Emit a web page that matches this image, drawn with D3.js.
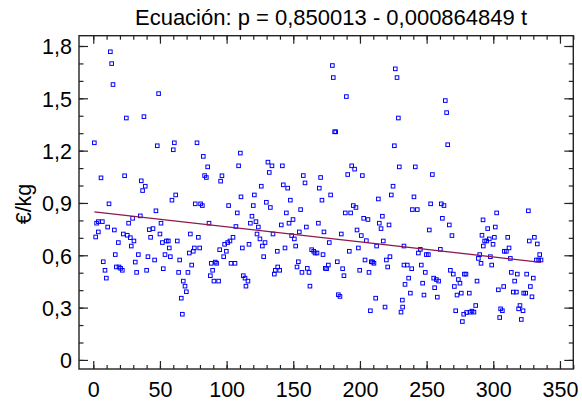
<!DOCTYPE html>
<html><head><meta charset="utf-8">
<script src="https://cdn.jsdelivr.net/npm/d3@7"></script>
<style>body{margin:0;background:#fff}svg{display:block}text{font-family:"Liberation Sans",Arial,sans-serif}</style>
</head><body>
<svg id="c" width="582" height="405"></svg>
<script>
const times = [0.8,1.8,2.5,3.8,3.8,5.8,6.8,7.5,8.8,9.8,10.8,11.8,12.8,13.8,14.8,15.8,16.5,17.3,18.8,19.3,20.5,21.8,22.5,23.5,24.8,25.5,26.5,27.8,28.5,29.5,30.5,31.5,32.5,33.8,35.3,36,37,38,39,40,41,42,43,44.8,46,47,48,49,50,50.8,51.8,52.5,53.8,
54.8,56.3,57,57.8,59,60,60.8,61.8,63,64,64.8,66,66.8,67.5,68.8,69.8,71,72,72.8,73.8,75,75.8,76.5,77.8,78.8,79.8,80.5,81.8,82.5,83.5,84.8,85.8,86.8,87.8,88.5,89.5,90.5,91.5,92.5,94,94.8,95.5,96.5,97.8,98.5,99.8,100.8,101.5,102.5,103.3,104.8,106.3,107,108,109,110.3,110.8,111.8,112.5,113.8,114.5,
116,116.8,117.8,119,120,120.8,122,122.8,123.8,125,126,126.8,127.8,128.8,129.8,131,132,132.8,134,134.8,135.8,136.5,138,138.3,139.8,141,141.8,142.5,143.8,144.8,145.8,146.8,147.8,148.8,149.8,150.8,151.8,152.8,153.8,154.5,155.5,156.5,157.5,158.8,159.8,160.5,161.8,162.5,163.8,165.3,166.3,167.8,168.8,169.5,170.5,171.5,172.3,173,174,
175,176.3,177,178,179.3,180,181,181.8,183,183.8,185,186,187,188,189,189.8,190.8,192,193,193.8,195,196,197,197.8,198.8,199.8,201,201.8,202.8,203.8,204.8,206,206.8,207.8,208.5,209.5,210.5,211.8,212.5,213.8,214.5,215.8,216.8,217.5,218.8,219.8,220.8,221.8,222.5,223.5,224.8,225.8,226.5,227.8,228.8,229.5,230.8,231.8,232,233,233,233.8,
235.5,236.5,237.8,238.8,239.3,240.5,241.5,243,243.8,245.3,246,247,248,249,249.8,251.3,252,253,254.3,255.3,256,257.3,258,259,260.3,261,261.8,263,264,265,265.8,267,267.8,269,270,270.8,271.8,272.8,273.8,275,276,276.8,277.8,278.3,279.5,280,282,282.5,284,285.5,286.8,287.8,288.8,289.8,290.8,291.5,292.3,292.5,293.5,
295,295.8,297,297.8,298.8,299.8,300.8,301.5,302.5,303.8,304.8,305.5,306.8,307.8,308.3,309.8,310.8,311.8,312.8,313.5,315,316,317.3,318,319,320,321,322.3,322.8,324.3,325,326.3,327,327.8,329,330,330.8,332.3,333,334,334.8,335.8];
const prices = [1.245,0.705,0.784,0.793,0.734,1.044,0.793,0.563,0.514,0.469,0.762,0.895,1.767,1.699,1.579,0.745,0.604,0.533,0.673,0.533,0.525,0.514,0.722,1.056,1.387,0.715,0.784,0.701,0.653,0.812,0.682,0.561,0.502,0.604,0.826,1.027,0.971,1.395,0.996,0.514,0.592,0.747,0.703,0.753,0.573,0.855,1.228,1.527,0.722,0.784,0.673,0.523,0.604,
0.682,0.682,0.642,0.592,0.916,1.205,1.245,0.946,0.682,0.502,0.573,0.354,0.262,0.452,0.423,0.391,0.502,0.613,0.722,0.544,0.623,0.642,0.895,1.245,0.703,0.642,0.895,0.885,1.167,1.057,1.046,1.107,0.784,0.483,0.554,0.514,0.452,0.561,0.554,0.452,0.632,1.025,1.056,0.592,0.663,0.623,0.673,0.885,0.682,0.554,0.703,0.554,0.765,0.843,1.113,1.186,0.935,0.642,0.483,0.469,0.423,
0.452,0.663,0.784,0.824,0.885,0.946,0.793,0.722,0.762,0.694,0.996,0.653,0.592,0.673,0.904,1.134,1.075,0.874,1.113,0.722,0.492,0.514,0.623,0.533,0.514,0.774,1.113,1.004,0.642,0.843,0.985,0.784,0.916,0.713,0.805,0.694,0.653,0.533,0.563,0.734,0.862,0.502,1.057,1.015,0.762,0.525,0.502,0.423,0.632,0.623,0.613,0.613,0.784,0.985,1.046,0.916,0.604,0.734,0.525,
0.523,0.544,0.673,0.946,1.688,1.619,1.308,1.308,0.563,0.374,0.364,0.722,0.523,0.483,0.843,1.510,1.063,0.623,0.843,1.113,0.885,1.094,0.874,0.745,0.642,0.514,0.713,1.057,0.812,0.573,0.684,0.805,0.502,0.282,0.563,0.561,0.554,0.354,0.653,0.923,0.784,0.753,0.824,0.682,0.303,0.573,0.533,0.774,0.592,0.946,0.996,1.228,1.669,1.619,1.387,1.107,0.274,0.343,0.303,0.653,0.544,0.433,
0.544,0.469,0.383,0.523,0.862,0.935,1.107,0.862,0.613,0.634,0.544,0.440,0.372,0.502,0.604,0.604,0.745,0.895,1.063,0.469,0.414,0.461,0.360,0.452,0.634,0.895,0.812,0.885,1.487,1.418,1.234,0.774,0.514,0.713,0.492,0.421,0.282,0.372,0.461,0.440,0.383,0.220,0.262,0.492,0.492,0.272,0.383,0.274,0.280,0.274,0.312,0.452,0.582,0.604,0.554,0.715,0.803,0.653,0.682,
0.682,0.753,0.694,0.592,0.544,0.663,0.703,0.762,0.843,0.402,0.243,0.293,0.282,0.421,0.623,0.623,0.703,0.642,0.582,0.502,0.389,0.452,0.389,0.492,0.293,0.312,0.232,0.282,0.383,0.383,0.492,0.855,0.682,0.421,0.362,0.469,0.703,0.573,0.665,0.573,0.604,0.573];
const intercept = 0.850013, slope = -0.000864849;
const xTicks = [0,50,100,150,200,250,300,350];
const yTicks = [0,0.3,0.6,0.9,1.2,1.5,1.8];
const xMinor = d3.range(0,361,10);
const yMinor = d3.range(0,19).map(d=>d/10);
const title = "Ecuación: p = 0,850013 - 0,000864849 t";
const yLabel = "€/kg";

const L=79,R=573.3,T=35.7,B=369;
const svg=d3.select("#c");
const x=d3.scaleLinear().domain([-10.7,360]).range([L,R]);
const y=d3.scaleLinear().domain([-0.052,1.859]).range([B,T]);
const fmt=d=>d===0?"0":d3.format(".1f")(d).replace(".",",");
const fs="21.5px", axisCol="#222";

function style(g){g.select(".domain").remove();g.selectAll("line").attr("stroke",axisCol).attr("stroke-width",1.2);
  g.selectAll("text").attr("fill","#000").style("font-size",fs).style("font-family",'"Liberation Sans",Arial,sans-serif');}
// minor ticks
svg.append("g").attr("transform",`translate(0,${B})`).call(d3.axisBottom(x).tickValues(xMinor).tickSize(-4).tickFormat("")).call(style);
svg.append("g").attr("transform",`translate(0,${T})`).call(d3.axisTop(x).tickValues(xMinor).tickSize(-4).tickFormat("")).call(style);
svg.append("g").attr("transform",`translate(${L},0)`).call(d3.axisLeft(y).tickValues(yMinor).tickSize(-4.5).tickFormat("")).call(style);
svg.append("g").attr("transform",`translate(${R},0)`).call(d3.axisRight(y).tickValues(yMinor).tickSize(-4.5).tickFormat("")).call(style);
// major ticks
svg.append("g").attr("transform",`translate(0,${B})`).call(d3.axisBottom(x).tickValues(xTicks).tickSize(-8).tickPadding(13).tickFormat(d3.format("d"))).call(style);
svg.append("g").attr("transform",`translate(0,${T})`).call(d3.axisTop(x).tickValues(xTicks).tickSize(-8).tickFormat("")).call(style);
const ya=svg.append("g").attr("transform",`translate(${L},0)`).call(d3.axisLeft(y).tickValues(yTicks).tickSize(-9).tickPadding(7).tickFormat(fmt)).call(style);
ya.selectAll("text").attr("dy","0.36em");
svg.append("g").attr("transform",`translate(${R},0)`).call(d3.axisRight(y).tickValues(yTicks).tickSize(-9).tickFormat("")).call(style);
// frame
svg.append("rect").attr("x",L).attr("y",T).attr("width",R-L).attr("height",B-T).attr("fill","none").attr("stroke",axisCol).attr("stroke-width",1.4);

// points
const pts=times.map((t,i)=>({t,p:prices[i]}));
svg.append("g").selectAll("rect").data(pts).join("rect")
  .attr("x",d=>x(d.t)-1.8).attr("y",d=>y(d.p)-1.8).attr("width",3.6).attr("height",3.6)
  .attr("fill","none").attr("stroke","#0000ff").attr("stroke-width",1);
// regression line
const ext=d3.extent(times);
const line=d3.line().x(d=>x(d)).y(d=>y(intercept+slope*d));
svg.append("path").datum(ext).attr("d",line).attr("fill","none").attr("stroke","#8b1a4a").attr("stroke-width",1.3);

svg.append("text").attr("x",331).attr("y",25).attr("text-anchor","middle").style("font-size","22px").text(title);
svg.append("text").attr("transform","translate(31,204) rotate(-90)").attr("text-anchor","middle").style("font-size",fs).text(yLabel);
</script>
</body></html>
